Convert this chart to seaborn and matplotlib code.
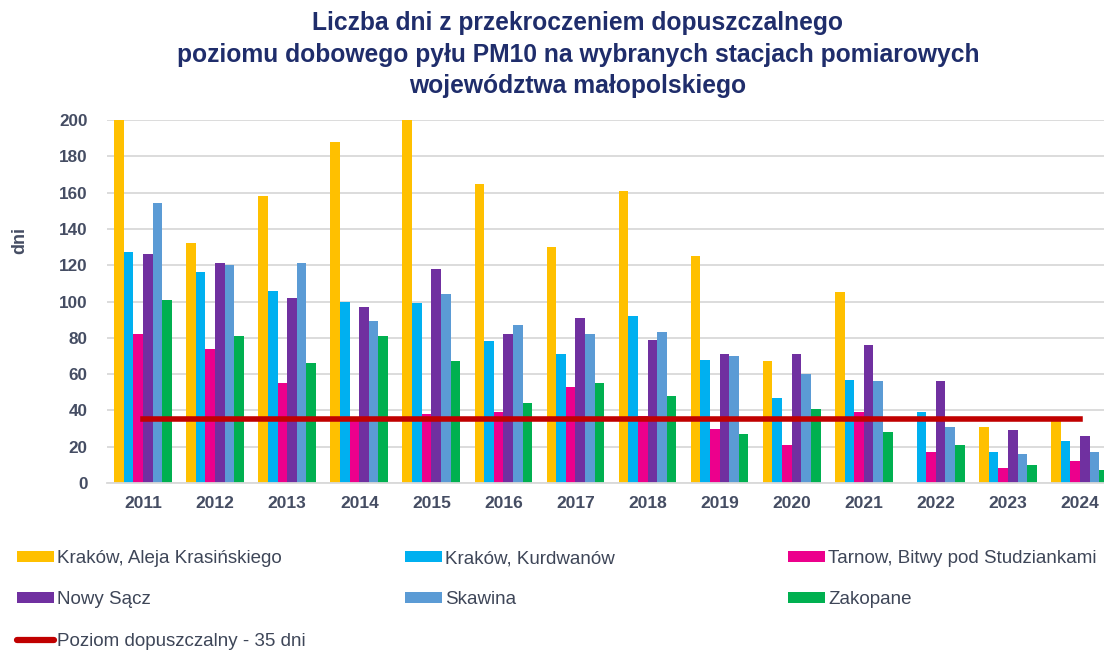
import numpy as np
import pandas as pd
import matplotlib
matplotlib.use("Agg")
import matplotlib.pyplot as plt
import seaborn as sns
from matplotlib.patches import Patch
from matplotlib.lines import Line2D

years = ["2011", "2012", "2013", "2014", "2015", "2016", "2017",
         "2018", "2019", "2020", "2021", "2022", "2023", "2024"]
stations = ["Kraków, Aleja Krasińskiego", "Kraków, Kurdwanów",
            "Tarnow, Bitwy pod Studziankami", "Nowy Sącz", "Skawina", "Zakopane"]
krakow_aleja = [200, 132, 158, 188, 200, 165, 130, 161, 125, 67, 105, np.nan, 31, 34]
krakow_kurdwanow = [127, 116, 106, 100, 99, 78, 71, 92, 68, 47, 57, 39, 17, 23]
tarnow = [82, 74, 55, 36, 38, 39, 53, 37, 30, 21, 39, 17, 8, 12]
nowy_sacz = [126, 121, 102, 97, 118, 82, 91, 79, 71, 71, 76, 56, 29, 26]
skawina = [154, 120, 121, 89, 104, 87, 82, 83, 70, 60, 56, 31, 16, 17]
zakopane = [101, 81, 66, 81, 67, 44, 55, 48, 27, 41, 28, 21, 10, 7]
limit_label = "Poziom dopuszczalny - 35 dni"
limit_values = [35] * len(years)

colors = ["#FFC000", "#00B0F0", "#EC008C", "#7030A0", "#5B9BD5", "#00B050"]
limit_color = "#C00000"

series = [krakow_aleja, krakow_kurdwanow, tarnow, nowy_sacz, skawina, zakopane]
df = pd.DataFrame({
    "year": np.tile(years, len(stations)),
    "station": np.repeat(stations, len(years)),
    "value": np.concatenate([np.array(s, dtype=float) for s in series]),
})

sns.set_theme(style="white")
plt.rcParams["font.family"] = ["Liberation Sans", "DejaVu Sans"]

fig = plt.figure(figsize=(11.04, 6.53), dpi=100)
W, H = 1104, 653
ax = fig.add_axes([107 / W, (H - 483) / H, (W - 107) / W, (483 - 120) / H])

sns.barplot(data=df, x="year", y="value", hue="station", hue_order=stations,
            order=years, palette=colors, width=0.8, gap=0, saturation=1,
            dodge=True, ax=ax, legend=False, linewidth=0, errorbar=None)
sns.lineplot(x=np.arange(len(years)), y=limit_values, color=limit_color,
             linewidth=4.0, ax=ax, legend=False, solid_capstyle="projecting")

ax.set_ylim(0, 200)
ax.set_xlim(-0.5, (W - 144) / 72)
ax.set_yticks(np.arange(0, 201, 20))
ax.yaxis.grid(True, color="#D9D9D9", linewidth=1.3)
ax.set_axisbelow(True)
for s in ["top", "right", "left"]:
    ax.spines[s].set_visible(False)
ax.spines["bottom"].set_color("#D9D9D9")
ax.spines["bottom"].set_linewidth(1.3)
tick_color = "#454D63"
ax.tick_params(axis="y", length=0, labelsize=12.3, labelcolor=tick_color, pad=14)
ax.tick_params(axis="x", length=0, labelsize=12.5, labelcolor=tick_color, pad=9)
for lab in ax.get_xticklabels() + ax.get_yticklabels():
    lab.set_fontweight("bold")
ax.set_xlabel("")
ax.set_ylabel("")

fig.text(20 / W, 1 - 240 / H, "dni", rotation=90, ha="center", va="center",
         fontsize=13, fontweight="bold", color=tick_color)

fig.text(578 / W, 1 - 11 / H,
         "Liczba dni z przekroczeniem dopuszczalnego\n"
         "poziomu dobowego pyłu PM10 na wybranych stacjach pomiarowych\n"
         "województwa małopolskiego",
         ha="center", va="top", fontsize=17.7, fontweight="bold",
         color="#1F2D6B", linespacing=1.4)

# legend in three columns
leg_font = {"size": 13.5}
handles = [Patch(facecolor=c, edgecolor="none") for c in colors]
line_handle = Line2D([0], [0], color=limit_color, linewidth=4.5)
cols = [
    ([handles[0], handles[3], line_handle], [stations[0], stations[3], limit_label], 17),
    ([handles[1], handles[4]], [stations[1], stations[4]], 405),
    ([handles[2], handles[5]], [stations[2], stations[5]], 788),
]
for h, l, x0 in cols:
    leg = fig.legend(h, l, loc="upper left", bbox_to_anchor=(x0 / W, 1 - 550 / H),
                     frameon=False, prop=leg_font, handlelength=1.97,
                     handleheight=0.53, handletextpad=0.16, labelspacing=1.3,
                     borderpad=0, borderaxespad=0)
    for t in leg.get_texts():
        t.set_color("#3E4658")

fig.savefig("out.png", dpi=100)
